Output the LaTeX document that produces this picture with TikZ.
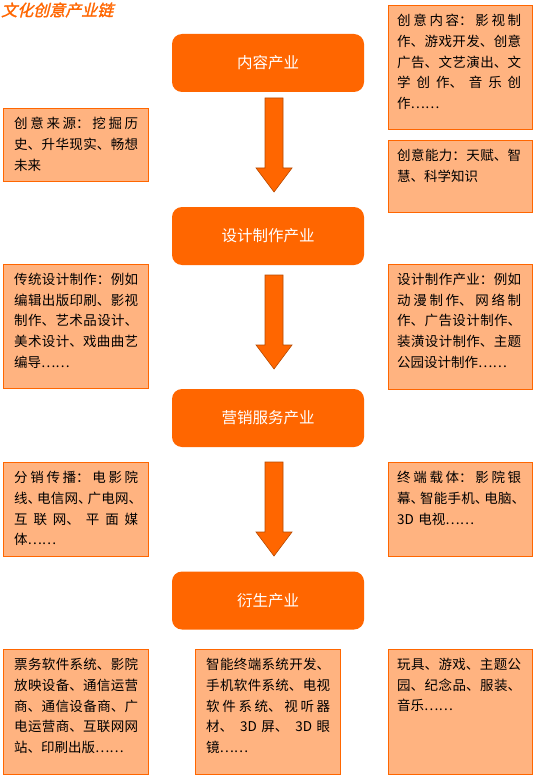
\documentclass[tikz,border=0pt]{standalone}
\usepackage{fontspec}
\setmainfont{Noto Sans CJK SC}
\newfontfamily\titlefont[FakeSlant=0.25,FakeBold=1.5]{Noto Sans CJK SC}
\XeTeXlinebreaklocale "zh"
\XeTeXlinebreakskip=0pt plus 1fil
\definecolor{orangemain}{HTML}{FF6600}
\definecolor{peach}{HTML}{FFB380}
\definecolor{arrowedge}{HTML}{B84A00}
\newcommand\jfy{\noindent\parfillskip=0pt plus 1fill\relax}
\newcommand\ep{\par}
\newcommand\dn{、\kern-4pt\relax}
\begin{document}
\begin{tikzpicture}[x=1pt,y=-1pt,
  stage/.style={fill=orangemain, draw=none, rounded corners=10pt, minimum width=192pt, minimum height=58pt,
    text=white, font=\fontsize{15.5}{18}\selectfont, inner sep=0pt},
  infobox/.style={fill=peach, draw=orangemain, line width=1.4pt, anchor=north west, inner sep=0pt},
  infotext/.style={anchor=north west, inner sep=0pt, text width=124pt, text=black,
    font=\fontsize{13.5}{20.7}\selectfont},
  titletext/.style={anchor=west, inner sep=0pt, text=orangemain, font=\titlefont\fontsize{16}{18}\selectfont},
  downarrow/.pic={\draw[fill=orangemain, draw=arrowedge, line width=0.6pt, line join=miter]
    (-9,0) -- (9,0) -- (9,70) -- (18,70) -- (0,94) -- (-18,70) -- (-9,70) -- cycle;}
]
\useasboundingbox[fill=white] (0,0) rectangle (535,778);

% title
\node[titletext] (title) at (1,10) {文化创意产业链};

% stage boxes
\node[stage] (s1) at (268,63) {内容产业};
\node[stage] (s2) at (268,236) {设计制作产业};
\node[stage] (s3) at (268,418) {营销服务产业};
\node[stage] (s4) at (268,600.5) {衍生产业};

% arrows
\pic at (274,98) {downarrow};
\pic at (274,275) {downarrow};
\pic at (274,462) {downarrow};

% info boxes
\node[infobox, minimum width=144pt, minimum height=124pt] (r1) at (388,5) {};
\node[infotext] (r1t) at ([xshift=9pt,yshift=-9pt]r1.north west)
  {\jfy 创意内容：影视制\linebreak 作、游戏开发、创意\linebreak 广告、文艺演出、文\linebreak 学创作、音乐创\linebreak 作……\ep};

\node[infobox, minimum width=144pt, minimum height=72pt] (r2) at (388,140) {};
\node[infotext] (r2t) at ([xshift=9pt,yshift=-9pt]r2.north west)
  {\jfy 创意能力：天赋、智\linebreak 慧、科学知识\ep};

\node[infobox, minimum width=145pt, minimum height=73pt] (l1) at (3,108) {};
\node[infotext] (l1t) at ([xshift=11pt,yshift=-9pt]l1.north west)
  {\jfy 创意来源：挖掘历\linebreak 史、升华现实、畅想\linebreak 未来\ep};

\node[infobox, minimum width=145pt, minimum height=124pt] (l2) at (3,264) {};
\node[infotext] (l2t) at ([xshift=11pt,yshift=-9pt]l2.north west)
  {\jfy 传统设计制作：例如\linebreak 编辑出版印刷、影视\linebreak 制作、艺术品设计、\linebreak 美术设计、戏曲曲艺\linebreak 编导……\ep};

\node[infobox, minimum width=144pt, minimum height=125pt] (r3) at (388,264) {};
\node[infotext] (r3t) at ([xshift=9pt,yshift=-9pt]r3.north west)
  {\jfy 设计制作产业：例如\linebreak 动漫制作、网络制\linebreak 作、广告设计制作、\linebreak 装潢设计制作、主题\linebreak 公园设计制作……\ep};

\node[infobox, minimum width=145pt, minimum height=94pt] (l3) at (3,462) {};
\node[infotext] (l3t) at ([xshift=11pt,yshift=-9pt]l3.north west)
  {\jfy 分销传播：电影院\linebreak 线\dn 电信网\dn 广电网\dn\linebreak 互联网、平面媒\linebreak 体……\ep};

\node[infobox, minimum width=144pt, minimum height=94pt] (r4) at (388,462) {};
\node[infotext] (r4t) at ([xshift=9pt,yshift=-9pt]r4.north west)
  {\jfy 终端载体：影院银\linebreak 幕\dn 智能手机\dn 电脑\dn\linebreak 3D 电视……\ep};

\node[infobox, minimum width=145pt, minimum height=125pt] (b1) at (3,649) {};
\node[infotext] (b1t) at ([xshift=11pt,yshift=-9pt]b1.north west)
  {\jfy 票务软件系统、影院\linebreak 放映设备、通信运营\linebreak 商、通信设备商、广\linebreak 电运营商、互联网网\linebreak 站、印刷出版……\ep};

\node[infobox, minimum width=145pt, minimum height=125pt] (b2) at (195,649) {};
\node[infotext] (b2t) at ([xshift=11pt,yshift=-9pt]b2.north west)
  {\jfy 智能终端系统开发、\linebreak 手机软件系统、电视\linebreak 软件系统、视听器\linebreak 材、3D 屏、3D 眼\linebreak 镜……\ep};

\node[infobox, minimum width=144pt, minimum height=125pt] (b3) at (388,649) {};
\node[infotext] (b3t) at ([xshift=9pt,yshift=-9pt]b3.north west)
  {\jfy 玩具、游戏、主题公\linebreak 园、纪念品、服装、\linebreak 音乐……\ep};
\end{tikzpicture}
\end{document}
